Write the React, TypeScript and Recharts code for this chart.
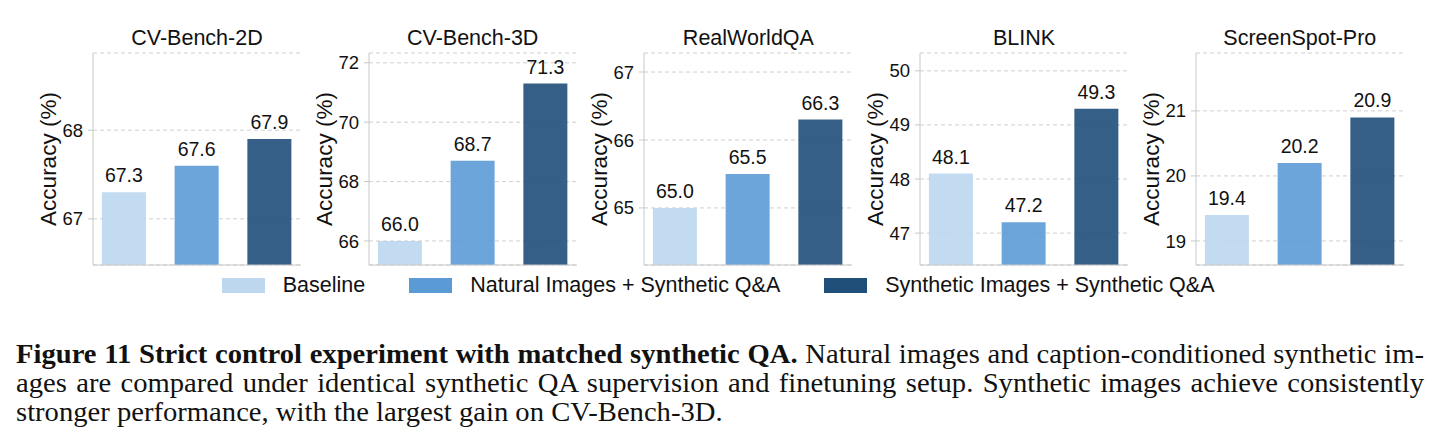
import { Bar, BarChart, CartesianGrid, Cell, LabelList, XAxis, YAxis } from "recharts";

const benchmarks = ["CV-Bench-2D", "CV-Bench-3D", "RealWorldQA", "BLINK", "ScreenSpot-Pro"];
const seriesNames = ["Baseline", "Natural Images + Synthetic Q&A", "Synthetic Images + Synthetic Q&A"];
const seriesColors = ["#bdd7ee", "#5b9bd5", "#1f4e79"];

const baseline = [67.3, 66.0, 65.0, 48.1, 19.4];
const naturalQA = [67.6, 68.7, 65.5, 47.2, 20.2];
const syntheticQA = [67.9, 71.3, 66.3, 49.3, 20.9];

const yTicks = [
  [67, 68],
  [66, 68, 70, 72],
  [65, 66, 67],
  [47, 48, 49, 50],
  [19, 20, 21],
];
const yDomains = [
  [66.48, 68.87],
  [65.19, 72.33],
  [64.16, 67.28],
  [46.41, 50.33],
  [18.63, 21.89],
];

const SANS = "'Liberation Sans', Arial, Helvetica, sans-serif";
const SERIF = "'Liberation Serif', 'Times New Roman', serif";
const AXIS_GRAY = "#c8c8c8";

const PLOT_TOP = 53;
const PLOT_H = 212;
const PLOT_W = 208;
const Y_AXIS_W = 70;
const FIRST_PLOT_LEFT = 93;
const PANEL_STEP = 275.7;

// rotated y-axis title, centred on the plot height
const AxisTitle = (props: any) => {
  const vb = props.viewBox || { x: 0, y: PLOT_TOP, width: Y_AXIS_W, height: PLOT_H };
  const cx = vb.x + vb.width - 45;
  const cy = vb.y + vb.height / 2;
  return (
    <text
      x={cx}
      y={cy}
      transform={`rotate(-90 ${cx} ${cy})`}
      textAnchor="middle"
      dominantBaseline="central"
      fontSize={22.5}
      fontFamily={SANS}
      fill="#111"
    >
      Accuracy (%)
    </text>
  );
};

const Panel = ({ index }: { index: number }) => {
  const values = [baseline[index], naturalQA[index], syntheticQA[index]];
  const rows = values.map((v, i) => ({ x: i, v }));
  const plotLeft = FIRST_PLOT_LEFT + index * PANEL_STEP;

  return (
    <>
      <div
        style={{
          position: "absolute",
          left: plotLeft,
          top: 27.5,
          width: PLOT_W,
          textAlign: "center",
          fontFamily: SANS,
          fontSize: 21.5,
          lineHeight: "21.5px",
          color: "#111",
          whiteSpace: "nowrap",
        }}
      >
        {benchmarks[index]}
      </div>
      <div style={{ position: "absolute", left: plotLeft - Y_AXIS_W, top: 0 }}>
        <BarChart
          width={Y_AXIS_W + PLOT_W}
          height={PLOT_TOP + PLOT_H + 1}
          data={rows}
          margin={{ top: PLOT_TOP, right: 0, bottom: 0, left: 0 }}
        >
          <CartesianGrid vertical={false} stroke="#cfcfcf" strokeDasharray="4 3" />
          <XAxis
            type="number"
            dataKey="x"
            domain={[-0.43, 2.43]}
            ticks={[0, 1, 2]}
            allowDataOverflow
            height={1}
            tick={false}
            tickLine={false}
            axisLine={{ stroke: AXIS_GRAY }}
          />
          <YAxis
            type="number"
            domain={yDomains[index]}
            ticks={yTicks[index]}
            allowDataOverflow
            width={Y_AXIS_W}
            tickSize={5}
            tickMargin={5}
            tickLine={{ stroke: AXIS_GRAY }}
            axisLine={{ stroke: AXIS_GRAY }}
            tick={{ fontSize: 18.5, fill: "#111", fontFamily: SANS }}
            label={<AxisTitle />}
          />
          <Bar dataKey="v" barSize={44} fillOpacity={0.9} isAnimationActive={false}>
            {rows.map((r) => (
              <Cell key={r.x} fill={seriesColors[r.x]} />
            ))}
            <LabelList
              dataKey="v"
              position="top"
              offset={10}
              formatter={(v: any) => Number(v).toFixed(1)}
              fontSize={19.5}
              fontFamily={SANS}
              fill="#111"
            />
          </Bar>
        </BarChart>
      </div>
    </>
  );
};

const SharedLegend = () => (
  <div
    style={{
      position: "absolute",
      left: 221.7,
      top: 274,
      height: 23,
      display: "flex",
      alignItems: "center",
      fontFamily: SANS,
      fontSize: 21.5,
      color: "#111",
      whiteSpace: "nowrap",
    }}
  >
    {seriesNames.map((name, i) => (
      <div key={name} style={{ display: "flex", alignItems: "center", marginRight: 44 }}>
        <span
          style={{
            display: "inline-block",
            width: 43,
            height: 14.5,
            background: seriesColors[i],
            marginRight: 18,
          }}
        />
        <span>{name}</span>
      </div>
    ))}
  </div>
);

// caption is set slightly narrow and widened with scaleX for a book-face proportion
const CAPTION_SCALE = 1.06;
const CAPTION_W = 1408;

const lineStyle = {
  height: 29,
  lineHeight: "29px",
  whiteSpace: "nowrap" as const,
};

const Caption = () => (
  <div
    style={{
      position: "absolute",
      left: 16,
      top: 339.5,
      width: CAPTION_W / CAPTION_SCALE,
      transform: `scaleX(${CAPTION_SCALE})`,
      transformOrigin: "0 0",
      fontFamily: SERIF,
      fontSize: 27,
      color: "#111",
    }}
  >
    <div style={{ ...lineStyle, textAlign: "justify", textAlignLast: "justify" }}>
      <b>Figure 11 Strict control experiment with matched synthetic QA.</b> Natural images and
      caption-conditioned synthetic im-
    </div>
    <div style={{ ...lineStyle, textAlign: "justify", textAlignLast: "justify" }}>
      ages are compared under identical synthetic QA supervision and finetuning setup. Synthetic
      images achieve consistently
    </div>
    <div style={lineStyle}>stronger performance, with the largest gain on CV-Bench-3D.</div>
  </div>
);

export default function App() {
  return (
    <div
      style={{
        position: "absolute",
        left: 0,
        top: 0,
        width: 1446,
        height: 442,
        background: "#fff",
        overflow: "hidden",
      }}
    >
      {benchmarks.map((_, i) => (
        <Panel key={i} index={i} />
      ))}
      <SharedLegend />
      <Caption />
    </div>
  );
}
